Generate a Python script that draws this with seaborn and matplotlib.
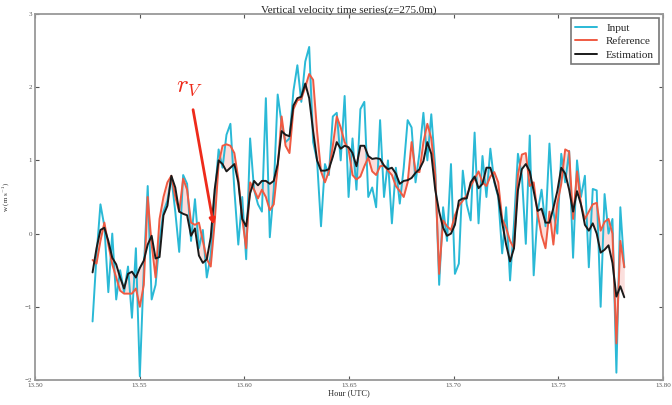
import numpy as np
import pandas as pd
import matplotlib
matplotlib.use("Agg")
import matplotlib.pyplot as plt
import seaborn as sns

# sample times (hours UTC), regular sampling
t_start, t_end = 13.5275, 13.7815

# Input (cyan)
w_input = [-1.2, -0.3, 0.4, 0.1, -0.8, 0.0, -0.9, -0.5, -0.8, -0.45,
           -1.15, -0.2, -1.95, -0.5, 0.65, -0.9, -0.7, -0.1, 0.3, 0.45,
           0.77, 0.3, -0.25, 0.8, 0.68, -0.1, 0.47, -0.2, 0.05, -0.6,
           -0.3, 0.5, 1.15, 0.9, 1.35, 1.5, 0.6, -0.15, 0.5, -0.35,
           1.3, 0.6, 0.4, 0.3, 1.85, -0.05, 0.6, 1.9, 1.5, 1.25,
           1.3, 1.95, 2.3, 1.8, 2.35, 2.55, 1.25, 1.0, 0.1, 0.95,
           0.8, 1.6, 1.65, 1.0, 1.88, 0.5, 1.3, 0.6, 1.7, 1.8,
           0.5, 0.63, 0.36, 1.55, 0.5, 1.0, 0.14, 0.9, 0.41, 0.9,
           1.55, 1.45, 0.7, 1.1, 1.65, 1.0, 1.63, 0.9, -0.7, 0.36,
           -0.1, 0.95, -0.55, -0.41, 0.86, 0.4, 0.18, 1.38, 0.14, 1.06,
           0.5, 1.16, 0.7, 0.5, -0.27, 0.36, -0.64, 0.14, 1.09, 0.8,
           -0.14, 1.34, -0.57, 0.3, 0.6, 0.1, 1.23, 0.3, 0.0, 1.09,
           0.7, 1.13, -0.33, 1.0, 0.5, 0.79, -0.46, 0.61, 0.59, -1.0,
           0.54, 0.0, 0.2, -1.9, 0.36, -0.46]

# Reference (red)
w_reference = [-0.36, -0.41, -0.1, 0.15, -0.15, -0.42, -0.6, -0.78, -0.82, -0.82,
               -0.82, -0.75, -1.0, -0.7, 0.5, -0.15, -0.6, 0.2, 0.5, 0.7,
               0.79, 0.5, 0.3, 0.75, 0.6, 0.15, 0.12, 0.15, -0.1, -0.35,
               -0.45, 0.15, 0.95, 1.2, 1.22, 1.2, 1.1, 0.75, 0.2, -0.2,
               0.7, 0.6, 0.48, 0.6, 0.5, 0.32, 0.4, 0.9, 1.6, 1.2,
               1.1, 1.7, 1.82, 1.84, 2.0, 2.18, 2.1, 1.4, 0.85, 0.7,
               0.85, 1.2, 1.6, 1.45, 1.25, 1.15, 0.8, 0.74, 0.78, 0.92,
               1.04, 0.85, 0.8, 0.92, 0.93, 0.86, 0.8, 0.65, 0.58, 0.5,
               0.7, 1.25, 0.85, 0.84, 1.25, 1.5, 1.3, 0.8, -0.55, 0.18,
               0.1, 0.05, 0.25, 0.38, 0.45, 0.52, 0.65, 0.75, 0.85, 0.7,
               0.65, 0.78, 0.84, 0.7, 0.2, 0.08, -0.1, -0.2, 0.8, 1.08,
               1.1, 0.65, 0.7, 0.27, -0.02, -0.2, 0.3, -0.15, 0.41, 0.68,
               1.15, 1.12, 0.2, 0.85, 0.4, 0.2, 0.3, 0.4, 0.42, 0.04,
               0.16, 0.2, 0.0, -1.5, -0.1, -0.46]

# Estimation (black)
w_estimation = [-0.53, -0.2, 0.05, 0.08, -0.1, -0.33, -0.42, -0.6, -0.75, -0.55,
                -0.52, -0.6, -0.47, -0.37, -0.15, -0.03, -0.34, -0.32, 0.25, 0.38,
                0.79, 0.63, 0.3, 0.27, 0.25, -0.03, 0.07, -0.3, -0.4, -0.35,
                -0.05, 0.6, 1.0, 0.95, 0.85, 0.9, 0.95, 0.7, 0.2, 0.1,
                0.55, 0.72, 0.66, 0.72, 0.72, 0.68, 0.72, 0.95, 1.4, 1.35,
                1.33, 1.75, 1.85, 1.87, 2.05, 1.85, 1.4, 1.0, 0.86, 0.86,
                0.88, 1.05, 1.25, 1.16, 1.2, 1.18, 1.1, 0.92, 1.2, 1.2,
                1.06, 1.02, 1.03, 1.02, 0.93, 0.88, 0.9, 0.82, 0.68, 0.72,
                0.73, 0.76, 0.83, 0.88, 0.99, 1.25, 1.09, 0.6, 0.3, 0.08,
                -0.03, 0.0, 0.12, 0.45, 0.48, 0.48, 0.7, 0.78, 0.62, 0.68,
                0.9, 0.9, 0.72, 0.52, 0.15, -0.15, -0.38, -0.2, 0.59, 0.88,
                0.95, 0.85, 0.58, 0.31, 0.34, 0.15, 0.15, 0.35, 0.58, 0.9,
                0.82, 0.6, 0.3, 0.58, 0.4, 0.12, 0.04, 0.14, 0.0, -0.26,
                -0.22, -0.16, -0.4, -0.86, -0.72, -0.87]

hours = np.linspace(t_start, t_end, len(w_input))
df = pd.DataFrame({"hour": hours, "Input": w_input,
                   "Reference": w_reference, "Estimation": w_estimation})

sns.set_style("ticks")
plt.rcParams["font.family"] = ["Liberation Serif", "DejaVu Serif"]
plt.rcParams["mathtext.fontset"] = "cm"

fig = plt.figure(figsize=(6.72, 4.05), dpi=100)
ax = fig.add_axes([35 / 672, 25 / 405, 628 / 672, 366 / 405])

c_in, c_ref, c_est = "#2ab9d6", "#ef5a42", "#1a1a1a"

ax.fill_between(df["hour"], df["Reference"], df["Estimation"],
                color="#f4a6a0", alpha=0.35, lw=0)
sns.lineplot(data=df, x="hour", y="Input", ax=ax, color=c_in, lw=1.4, label="Input")
sns.lineplot(data=df, x="hour", y="Reference", ax=ax, color=c_ref, lw=1.4, label="Reference")
sns.lineplot(data=df, x="hour", y="Estimation", ax=ax, color=c_est, lw=1.4, label="Estimation")

ax.set_xlim(13.50, 13.80)
ax.set_ylim(-2, 3)
ax.set_xticks([13.50, 13.55, 13.60, 13.65, 13.70, 13.75, 13.80])
ax.set_xticklabels(["13.50", "13.55", "13.60", "13.65", "13.70", "13.75", "13.80"])
ax.set_yticks([-2, -1, 0, 1, 2, 3])
ax.tick_params(axis="both", labelsize=5, colors="#555555", direction="in",
               length=3, top=True, right=True, pad=2)
for s in ax.spines.values():
    s.set_color("#999999")
    s.set_linewidth(1.3)

ax.set_title("Vertical velocity time series(z=275.0m)", fontsize=8, pad=1)
ax.set_xlabel("Hour (UTC)", fontsize=6, labelpad=1)
ax.set_ylabel("w (m s$^{-1}$)", fontsize=5, labelpad=10)

ax.annotate("$r_V$", xy=(13.5853, 0.12), xytext=(13.5736, 2.0),
            fontsize=18, color="#ee2a1a", ha="center", va="center",
            arrowprops=dict(arrowstyle="-|>", color="#ee2a1a", lw=2,
                            mutation_scale=8, shrinkA=6, shrinkB=0))

leg = ax.legend(loc="upper right", fontsize=8, frameon=True, fancybox=False,
                borderaxespad=0.4, handlelength=2.0, labelspacing=0.35)
leg.get_frame().set_edgecolor("#555555")
leg.get_frame().set_linewidth(1.2)

fig.savefig("out.png", dpi=100)
